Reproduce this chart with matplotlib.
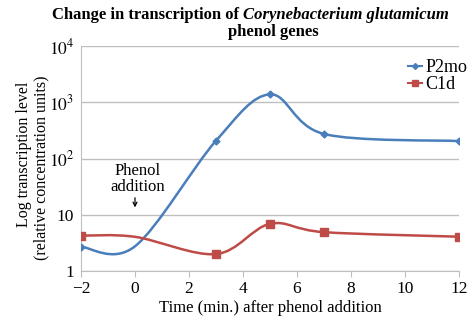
import numpy as np
import matplotlib.pyplot as plt
from matplotlib.path import Path
from matplotlib.patches import PathPatch
from matplotlib.lines import Line2D

# values (log axis); t=0 has no marker in the original
time_min = [-2, 0, 3, 5, 7, 12]
p2mo = [2.7, 2.75, 207, 1380, 273, 204]
c1d = [4.25, 4.05, 2.0, 6.9, 4.9, 4.07]
marked = [0, 2, 3, 4, 5]
x_ticks = [-2, 0, 2, 4, 6, 8, 10, 12]
y_ticks = [1, 10, 100, 1000, 10000]
y_ticklabels = ['1', '10', '$10^2$', '$10^3$', '$10^4$']

BLUE = '#4a7ebb'
RED = '#be4b48'
GRID = '#bfbfbf'

plt.rcParams['font.family'] = ['Liberation Serif', 'DejaVu Serif']
plt.rcParams['mathtext.fontset'] = 'stix'


def smooth_path(xs, ys):
    # excel-like smoothed line: cubic bezier segments, control points in log space
    px = np.asarray(xs, float)
    py = np.log10(np.asarray(ys, float))
    n = len(px)
    verts = [(px[0], py[0])]
    codes = [Path.MOVETO]
    for i in range(n - 1):
        a = max(i - 1, 0)
        b = min(i + 2, n - 1)
        c1 = (px[i] + (px[i + 1] - px[a]) / 6, py[i] + (py[i + 1] - py[a]) / 6)
        c2 = (px[i + 1] - (px[b] - px[i]) / 6, py[i + 1] - (py[b] - py[i]) / 6)
        verts += [c1, c2, (px[i + 1], py[i + 1])]
        codes += [Path.CURVE4] * 3
    verts = [(vx, 10 ** vy) for vx, vy in verts]
    return Path(verts, codes)


fig = plt.figure(figsize=(4.72, 3.22), dpi=100)
ax = fig.add_axes([81 / 472, 1 - 271 / 322, 378 / 472, 225 / 322])
ax.set_yscale('log')
ax.set_xlim(-2, 12)
ax.set_ylim(1, 10000)

for vals, col, mk, ms in [(p2mo, BLUE, 'D', 3.5), (c1d, RED, 's', 5.5)]:
    ax.add_patch(PathPatch(smooth_path(time_min, vals), fill=False,
                           edgecolor=col, lw=1.8, zorder=3))
    ax.plot([time_min[i] for i in marked], [vals[i] for i in marked],
            ls='none', marker=mk, ms=ms, color=col, zorder=4)

ax.set_xticks(x_ticks)
ax.set_xticklabels([f'{t}'.replace('-', '\u2212') for t in x_ticks])
ax.set_yticks(y_ticks)
ax.set_yticklabels(y_ticklabels)
ax.yaxis.set_minor_locator(plt.NullLocator())
ax.tick_params(axis='both', labelsize=12.5, color=GRID, length=4)
ax.tick_params(axis='y', length=0, pad=5)
ax.grid(axis='y', color=GRID, lw=1)
ax.set_axisbelow(True)
for s in ['top', 'right']:
    ax.spines[s].set_visible(False)
for s in ['left', 'bottom']:
    ax.spines[s].set_color(GRID)

ax.set_xlabel('Time (min.) after phenol addition', fontsize=12, labelpad=2)
fig.text(24 / 472, 1 - 154 / 322, 'Log transcription level',
         rotation=90, ha='center', va='center', fontsize=11.5)
fig.text(41 / 472, 1 - 168 / 322, '(relative concentration units)',
         rotation=90, ha='center', va='center', fontsize=11.5)

ax.text(0.1, 22, 'Phenol\naddition', ha='center', va='bottom', fontsize=12,
        linespacing=1.05)
ax.annotate('', xy=(0.0, 13.5), xytext=(0.0, 20),
            arrowprops=dict(arrowstyle='->', color='black', lw=0.9,
                            mutation_scale=7, shrinkA=0, shrinkB=0))

# title: bold text with a bold-italic species name, set piece by piece
r = fig.canvas.get_renderer()
parts = [('Change in transcription of ', 'normal'),
         ('Corynebacterium glutamicum', 'italic')]
widths = []
for s, st in parts:
    t = fig.text(0, 0, s, fontsize=12, fontweight='bold', fontstyle=st)
    widths.append(t.get_window_extent(r).width)
    t.remove()
x0 = 250 - sum(widths) / 2
for (s, st), w in zip(parts, widths):
    fig.text(x0 / 472, 1 - 15 / 322, s, ha='left', va='center', fontsize=12,
             fontweight='bold', fontstyle=st)
    x0 += w
fig.text(273 / 472, 1 - 32 / 322, 'phenol genes', ha='center', va='center',
         fontsize=12, fontweight='bold')

handles = [Line2D([], [], color=BLUE, marker='D', ms=3, lw=1.5),
           Line2D([], [], color=RED, marker='s', ms=4.5, lw=1.5)]
fig.legend(handles, ['P2mo', 'C1d'], loc='upper left',
           bbox_to_anchor=(408 / 472, 1 - 59 / 322), frameon=False,
           fontsize=13, handlelength=0.8, handletextpad=0.15, labelspacing=0.0,
           borderpad=0, borderaxespad=0)

fig.savefig('out.png', dpi=100)
